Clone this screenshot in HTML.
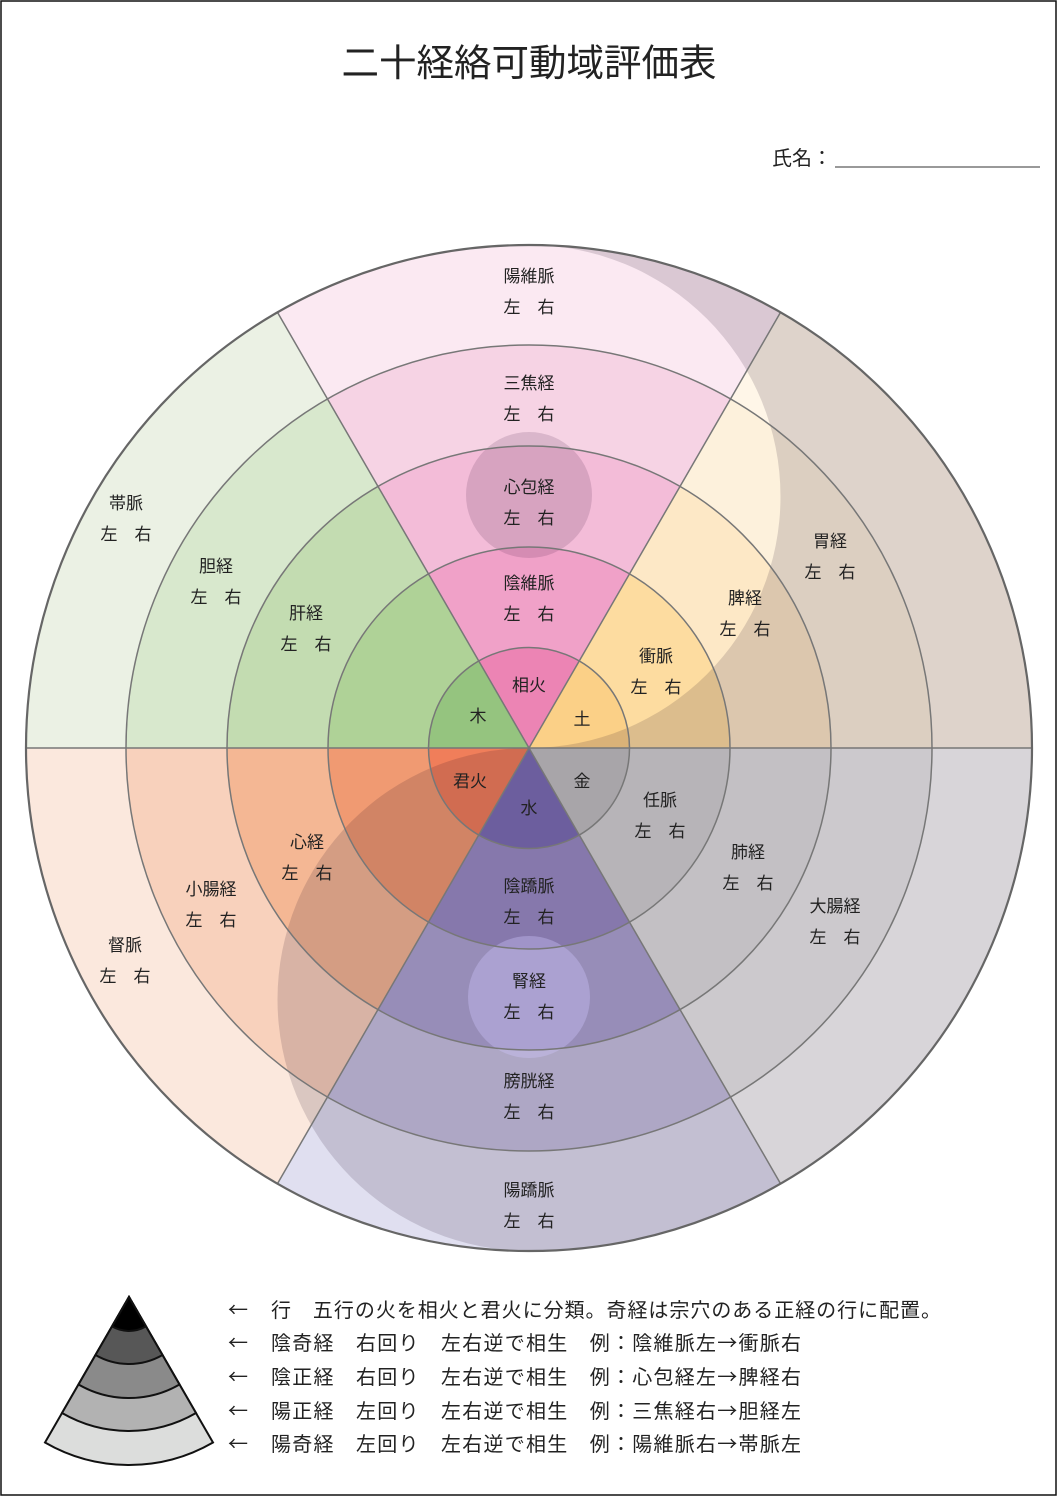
<!DOCTYPE html>
<html><head><meta charset="utf-8"><style>
html,body{margin:0;padding:0;background:#fff;}
svg{display:block;}
text{font-family:"Liberation Sans","Noto Sans CJK JP",sans-serif;fill:#222;}
.cjk{font-family:"Noto Sans CJK JP",sans-serif;}
</style></head><body>
<svg width="1058" height="1497" viewBox="0 0 1058 1497" xmlns="http://www.w3.org/2000/svg">
<rect x="1" y="1" width="1055" height="1494" fill="#fff" stroke="#111" stroke-width="1.5"/>
<text x="529" y="76" font-size="37.5" text-anchor="middle">二十経絡可動域評価表</text>
<text x="772" y="165" font-size="20">氏名：</text>
<line x1="835" y1="167" x2="1040" y2="167" stroke="#333" stroke-width="1"/>
<defs>
<clipPath id="s0"><polygon points="529,748 1600,748 1600,-291 1129,-291"/></clipPath>
<clipPath id="s1"><polygon points="529,748 1129,-291 -71,-291"/></clipPath>
<clipPath id="s2"><polygon points="529,748 -71,-291 -600,-291 -600,748"/></clipPath>
<clipPath id="s3"><polygon points="529,748 -600,748 -600,1787 -71,1787"/></clipPath>
<clipPath id="s4"><polygon points="529,748 -71,1787 1129,1787"/></clipPath>
<clipPath id="s5"><polygon points="529,748 1129,1787 1600,1787 1600,748"/></clipPath>
</defs>
<g clip-path="url(#s0)">
<circle cx="529" cy="748" r="503" fill="#fff6e8"/><circle cx="529" cy="748" r="403" fill="#fdf1dc"/><circle cx="529" cy="748" r="302" fill="#fde8c6"/><circle cx="529" cy="748" r="201" fill="#fddca0"/><circle cx="529" cy="748" r="100.5" fill="#fbd087"/>
</g>
<g clip-path="url(#s1)">
<circle cx="529" cy="748" r="503" fill="#fbe9f2"/><circle cx="529" cy="748" r="403" fill="#f6d3e4"/><circle cx="529" cy="748" r="302" fill="#f3bcd8"/><circle cx="529" cy="748" r="201" fill="#f0a1c8"/><circle cx="529" cy="748" r="100.5" fill="#ec84b4"/>
</g>
<g clip-path="url(#s2)">
<circle cx="529" cy="748" r="503" fill="#ebf1e4"/><circle cx="529" cy="748" r="403" fill="#d8e8cd"/><circle cx="529" cy="748" r="302" fill="#c3dcb1"/><circle cx="529" cy="748" r="201" fill="#afd297"/><circle cx="529" cy="748" r="100.5" fill="#95c47f"/>
</g>
<g clip-path="url(#s3)">
<circle cx="529" cy="748" r="503" fill="#fbe8dd"/><circle cx="529" cy="748" r="403" fill="#f8d1bc"/><circle cx="529" cy="748" r="302" fill="#f4b794"/><circle cx="529" cy="748" r="201" fill="#f09a72"/><circle cx="529" cy="748" r="100.5" fill="#f07e5a"/>
</g>
<g clip-path="url(#s4)">
<circle cx="529" cy="748" r="503" fill="#e0dff0"/><circle cx="529" cy="748" r="403" fill="#c7c3e1"/><circle cx="529" cy="748" r="302" fill="#ada5d2"/><circle cx="529" cy="748" r="201" fill="#998cc4"/><circle cx="529" cy="748" r="100.5" fill="#7b6eb4"/>
</g>
<g clip-path="url(#s5)">
<circle cx="529" cy="748" r="503" fill="#f8f8f8"/><circle cx="529" cy="748" r="403" fill="#eaeaea"/><circle cx="529" cy="748" r="302" fill="#e0e0e0"/><circle cx="529" cy="748" r="201" fill="#d2d2d2"/><circle cx="529" cy="748" r="100.5" fill="#c0c0c0"/>
</g>
<path d="M529,245 A503,503 0 0 1 529,1251 A251.5,251.5 0 0 1 529,748 A251.5,251.5 0 0 0 529,245 Z" fill="rgb(20,0,30)" fill-opacity="0.14"/>
<circle cx="529" cy="495" r="63" fill="rgb(60,20,60)" fill-opacity="0.15"/>
<circle cx="529" cy="997" r="61" fill="rgb(210,200,255)" fill-opacity="0.35"/>
<g fill="none" stroke="#777" stroke-width="1.5">
<circle cx="529" cy="748" r="100.5"/><circle cx="529" cy="748" r="201"/><circle cx="529" cy="748" r="302"/><circle cx="529" cy="748" r="403"/>
<line x1="26" y1="748" x2="1032" y2="748"/>
<line x1="780.5" y1="312.4" x2="277.5" y2="1183.6"/>
<line x1="277.5" y1="312.4" x2="780.5" y2="1183.6"/>
</g>
<circle cx="529" cy="748" r="503" fill="none" stroke="#666" stroke-width="2.2"/>
<g font-size="17" text-anchor="middle">
<text x="529" y="282">陽維脈</text><text x="529" y="313">左　右</text>
<text x="529" y="389">三焦経</text><text x="529" y="420">左　右</text>
<text x="529" y="493">心包経</text><text x="529" y="524">左　右</text>
<text x="529" y="589">陰維脈</text><text x="529" y="620">左　右</text>
<text x="529" y="691">相火</text>
<text x="126" y="509">帯脈</text><text x="126" y="540">左　右</text>
<text x="216" y="572">胆経</text><text x="216" y="603">左　右</text>
<text x="306" y="619">肝経</text><text x="306" y="650">左　右</text>
<text x="478" y="722">木</text>
<text x="830" y="547">胃経</text><text x="830" y="578">左　右</text>
<text x="745" y="604">脾経</text><text x="745" y="635">左　右</text>
<text x="656" y="662">衝脈</text><text x="656" y="693">左　右</text>
<text x="582" y="725">土</text>
<text x="125" y="951">督脈</text><text x="125" y="982">左　右</text>
<text x="211" y="895">小腸経</text><text x="211" y="926">左　右</text>
<text x="307" y="848">心経</text><text x="307" y="879">左　右</text>
<text x="470" y="787">君火</text>
<text x="529" y="892">陰蹻脈</text><text x="529" y="923">左　右</text>
<text x="529" y="987">腎経</text><text x="529" y="1018">左　右</text>
<text x="529" y="1087">膀胱経</text><text x="529" y="1118">左　右</text>
<text x="529" y="1196">陽蹻脈</text><text x="529" y="1227">左　右</text>
<text x="529" y="814">水</text>
<text x="660" y="806">任脈</text><text x="660" y="837">左　右</text>
<text x="748" y="858">肺経</text><text x="748" y="889">左　右</text>
<text x="835" y="912">大腸経</text><text x="835" y="943">左　右</text>
<text x="582" y="787">金</text>
</g>
<g stroke="#111" stroke-width="2">
<path d="M129,1297 L45,1442.5 A168,168 0 0 0 213,1442.5 Z" fill="#dcdddc"/>
<path d="M129,1297 L62,1413 A134,134 0 0 0 196,1413 Z" fill="#b2b2b2"/>
<path d="M129,1297 L78.5,1384.5 A101,101 0 0 0 179.5,1384.5 Z" fill="#8a8a8a"/>
<path d="M129,1297 L95.5,1355 A67,67 0 0 0 162.5,1355 Z" fill="#575757"/>
<path d="M129,1297 L112,1326.4 A34,34 0 0 0 146,1326.4 Z" fill="#000"/>
</g>
<g font-size="20">
<text class="cjk" x="228" y="1317">←</text><text x="271" y="1317" textLength="670" lengthAdjust="spacing">行　五行の火を相火と君火に分類。奇経は宗穴のある正経の行に配置。</text>
<text class="cjk" x="228" y="1350">←</text><text x="271" y="1350" textLength="530" lengthAdjust="spacing">陰奇経　右回り　左右逆で相生　例：陰維脈左<tspan class="cjk">→</tspan>衝脈右</text>
<text class="cjk" x="228" y="1384">←</text><text x="271" y="1384" textLength="530" lengthAdjust="spacing">陰正経　右回り　左右逆で相生　例：心包経左<tspan class="cjk">→</tspan>脾経右</text>
<text class="cjk" x="228" y="1418">←</text><text x="271" y="1418" textLength="530" lengthAdjust="spacing">陽正経　左回り　左右逆で相生　例：三焦経右<tspan class="cjk">→</tspan>胆経左</text>
<text class="cjk" x="228" y="1451">←</text><text x="271" y="1451" textLength="530" lengthAdjust="spacing">陽奇経　左回り　左右逆で相生　例：陽維脈右<tspan class="cjk">→</tspan>帯脈左</text>
</g>
</svg>
</body></html>
